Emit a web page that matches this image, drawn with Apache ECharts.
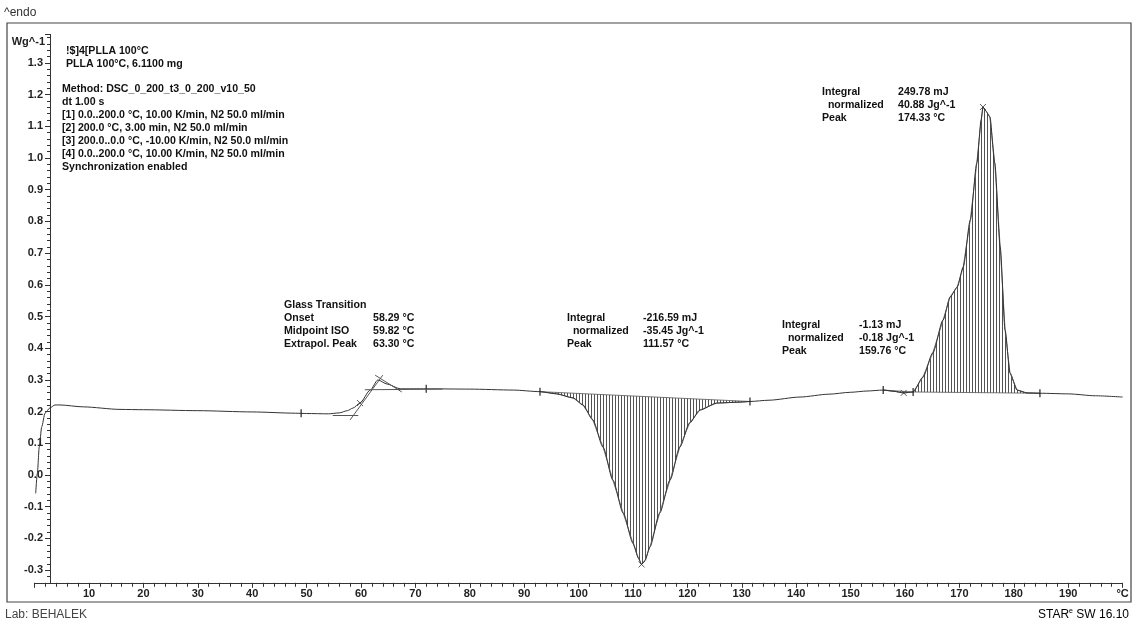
<!DOCTYPE html>
<html>
<head>
<meta charset="utf-8">
<script src="https://cdn.jsdelivr.net/npm/echarts@6/dist/echarts.min.js"></script>
<style>
    html, body { margin: 0; padding: 0; background: #fff; }
    #chart { width: 1136px; height: 624px; }
</style>
</head>
<body>
<div id="chart"></div>
<script>
// DSC curve: temperature (°C) and heat flow (Wg^-1)
var temps = [0.2, 0.5, 0.86, 1.31, 1.91, 2.83, 3.75, 4.67, 8.95, 15.7, 20, 30, 40, 48, 50, 54, 56, 57.5,
    58.5, 59.8, 61.7, 63.1, 64.8, 67.2, 72, 80, 88, 92.9, 96, 99, 100.8, 102.6, 104.5, 106.3, 108.2,
    110, 111, 111.57, 112.2, 113.1, 114.9, 116.8, 118.6, 120.4, 122.3, 125.4, 129.7, 131.5, 135,
    140.7, 146, 150, 153, 156, 158, 159.76, 161.5, 163.3, 165.1, 167, 168.3, 169.6, 170.7, 172,
    173.2, 174, 174.33, 174.8, 175.6, 176.5, 177.5, 178.4, 179.3, 180.6, 182.4, 184.8, 190, 195, 200];
var heatFlow = [-0.058, 0.005, 0.089, 0.152, 0.195, 0.212, 0.221, 0.221, 0.215, 0.207, 0.206, 0.203,
    0.199, 0.195, 0.194, 0.193, 0.196, 0.203, 0.211, 0.227, 0.268, 0.300, 0.287, 0.272, 0.272, 0.271,
    0.268, 0.263, 0.256, 0.243, 0.221, 0.174, 0.088, -0.016, -0.120, -0.215, -0.262, -0.282, -0.270,
    -0.227, -0.120, -0.016, 0.088, 0.164, 0.205, 0.227, 0.230, 0.232, 0.236, 0.246, 0.255, 0.261,
    0.265, 0.268, 0.264, 0.259, 0.262, 0.309, 0.385, 0.489, 0.562, 0.593, 0.656, 0.804, 0.984, 1.12,
    1.161, 1.15, 1.13, 0.984, 0.719, 0.457, 0.322, 0.268, 0.259, 0.258, 0.256, 0.250, 0.246];

// integration ranges [start, end] (°C)
var peakRanges = [[92.9, 131.5], [156, 161.5], [161.5, 184.8]];

// limit marks on the curve
var limitMarks = [[49, 0.195], [72, 0.272], [92.9, 0.263], [131.5, 0.232], [156, 0.268], [161.5, 0.262], [184.8, 0.258]];
// peak / midpoint marks
var peakMarks = [[59.82, 0.227], [111.57, -0.282], [159.76, 0.259], [174.33, 1.161]];

// glass transition construction lines
var tgLines = [
    [[54.8, 0.189], [59.5, 0.189]],
    [[58.0, 0.174], [64.0, 0.315]],
    [[60.7, 0.269], [75.0, 0.271]],
    [[62.6, 0.315], [67.5, 0.262]]
];

var xTicks = { min: 0, max: 200, step: 10 };
var yTicks = { min: -0.34, max: 1.39, split: 17 };

var FONT = '"Liberation Sans", Arial, sans-serif';
var chart = echarts.init(document.getElementById('chart'));

// vertical hatching pattern
var hatch = document.createElement('canvas');
hatch.width = 3;
hatch.height = 4;
var hc = hatch.getContext('2d');
hc.fillStyle = 'rgba(40,40,40,0.8)';
hc.fillRect(0, 0, 1, 4);

function txt(x, y, text, opt) {
    opt = opt || {};
    return {
        type: 'text', x: x, y: y, silent: true,
        style: {
            text: text,
            font: (opt.weight || 'bold') + ' ' + (opt.size || 10.6) + 'px ' + FONT,
            fill: opt.color || '#111',
            lineHeight: 13,
            textVerticalAlign: 'top',
            textAlign: opt.align || 'left'
        }
    };
}

var curve = temps.map(function (t, i) { return [t, heatFlow[i]]; });

var option = {
    animation: false,
    grid: { left: 34.6, right: 13.4, top: 34.4, bottom: 41.2 },
    xAxis: {
        type: 'value', min: xTicks.min, max: xTicks.max, interval: xTicks.step,
        axisLine: { onZero: false, lineStyle: { color: '#333', width: 1 } },
        axisTick: { show: true, length: 5, lineStyle: { color: '#333' } },
        minorTick: { show: true, splitNumber: 5, length: 4, lineStyle: { color: '#333' } },
        splitLine: { show: false },
        axisLabel: {
            margin: 6, fontSize: 11, fontWeight: 'bold', color: '#222', fontFamily: FONT,
            formatter: function (v) { return v === 0 ? '' : (v === 200 ? '°C' : v); },
            rich: {}
        }
    },
    yAxis: {
        type: 'value', min: yTicks.min, max: yTicks.max, splitNumber: yTicks.split, offset: -15.4,
        axisLine: { show: true, onZero: false, lineStyle: { color: '#333', width: 1 } },
        axisTick: { show: true, length: 5, lineStyle: { color: '#333' } },
        minorTick: { show: true, splitNumber: 5, length: 3, lineStyle: { color: '#333' } },
        splitLine: { show: false },
        axisLabel: {
            showMinLabel: false, showMaxLabel: false, margin: 7,
            fontSize: 11, fontWeight: 'bold', color: '#222', fontFamily: FONT,
            formatter: function (v) { return v.toFixed(1); }
        }
    },
    series: [
        {
            type: 'custom',
            coordinateSystem: 'cartesian2d',
            encode: { x: [0, 1] },
            data: peakRanges,
            z: 1,
            silent: true,
            renderItem: function (params, api) {
                var t1 = api.value(0), t2 = api.value(1);
                var pts = [];
                for (var i = 0; i < temps.length; i++) {
                    if (temps[i] >= t1 && temps[i] <= t2) pts.push(api.coord([temps[i], heatFlow[i]]));
                }
                return {
                    type: 'polygon',
                    shape: { points: pts },
                    style: { fill: { image: hatch, repeat: 'repeat' }, stroke: '#555', lineWidth: 0.8 }
                };
            }
        },
        {
            type: 'line',
            data: curve,
            showSymbol: false,
            smooth: 0.25,
            smoothMonotone: 'x',
            z: 3,
            silent: true,
            lineStyle: { color: '#333', width: 1 },
            markLine: {
                silent: true,
                symbol: 'none',
                label: { show: false },
                lineStyle: { color: '#555', width: 1, type: 'solid' },
                data: tgLines.map(function (l) {
                    return [{ coord: l[0] }, { coord: l[1] }];
                })
            }
        },
        {
            type: 'scatter',
            data: limitMarks,
            symbol: 'rect',
            symbolSize: [1.5, 8],
            z: 4,
            silent: true,
            itemStyle: { color: '#222' }
        },
        {
            type: 'scatter',
            data: peakMarks,
            symbol: 'path://M0,0L10,10M10,0L0,10',
            symbolSize: 6,
            z: 4,
            silent: true,
            itemStyle: { color: 'none', borderColor: '#333', borderWidth: 1 }
        }
    ],
    graphic: [
        { type: 'rect', silent: true, shape: { x: 7, y: 23, width: 1124, height: 579 },
          style: { fill: 'none', stroke: '#444', lineWidth: 1.2 } },
        txt(4, 6, '^endo', { weight: 'normal', size: 12, color: '#333' }),
        txt(45, 35, 'Wg^-1', { align: 'right', color: '#222', size: 11 }),
        txt(66, 45, '!$]4[PLLA 100°C\nPLLA 100°C, 6.1100 mg'),
        txt(62, 83, 'Method: DSC_0_200_t3_0_200_v10_50\ndt 1.00 s\n' +
            '[1] 0.0..200.0 °C, 10.00 K/min, N2 50.0 ml/min\n' +
            '[2] 200.0 °C, 3.00 min, N2 50.0 ml/min\n' +
            '[3] 200.0..0.0 °C, -10.00 K/min, N2 50.0 ml/min\n' +
            '[4] 0.0..200.0 °C, 10.00 K/min, N2 50.0 ml/min\n' +
            'Synchronization enabled'),
        txt(284, 299, 'Glass Transition\nOnset\nMidpoint ISO\nExtrapol. Peak'),
        txt(373, 312, '58.29 °C\n59.82 °C\n63.30 °C'),
        txt(567, 312, 'Integral\n  normalized\nPeak'),
        txt(643, 312, '-216.59 mJ\n-35.45 Jg^-1\n111.57 °C'),
        txt(822, 86, 'Integral\n  normalized\nPeak'),
        txt(898, 86, '249.78 mJ\n40.88 Jg^-1\n174.33 °C'),
        txt(782, 319, 'Integral\n  normalized\nPeak'),
        txt(859, 319, '-1.13 mJ\n-0.18 Jg^-1\n159.76 °C'),
        txt(5, 608, 'Lab: BEHALEK', { weight: 'normal', size: 12, color: '#444' }),
        {
            type: 'text', x: 1129, y: 608, silent: true,
            style: {
                text: '{g|S}{r|TAR}{e|e}{g| SW 16.10}',
                textAlign: 'right',
                textVerticalAlign: 'top',
                rich: {
                    g: { fontFamily: FONT, fontSize: 12, color: '#444' },
                    r: { fontFamily: FONT, fontSize: 12, color: '#e8342a' },
                    e: { fontFamily: FONT, fontSize: 7, color: '#e8342a', verticalAlign: 'top', padding: [0, 0, 6, 0] }
                }
            }
        }
    ]
};

chart.setOption(option);
</script>
</body>
</html>
